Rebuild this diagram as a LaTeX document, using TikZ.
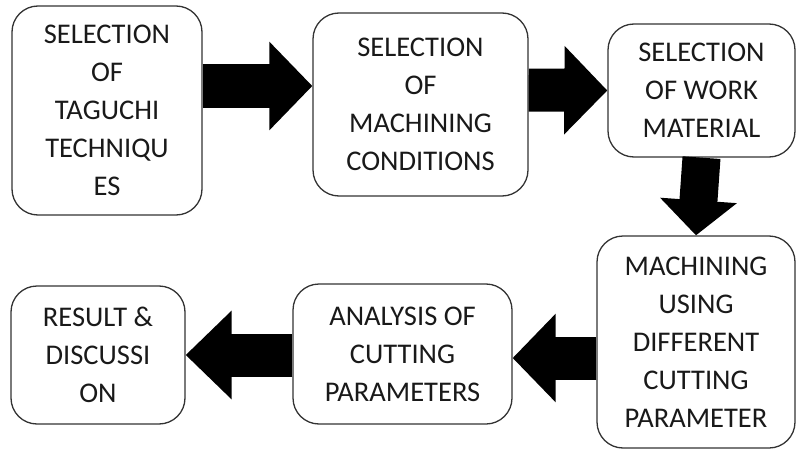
\documentclass[tikz,border=0pt]{standalone}
\usepackage{fontspec}
\setmainfont{Carlito}
\usetikzlibrary{arrows.meta}
\tikzset{
    %boxes of the flow chart
    stage/.style = {draw=black!80, line width=1.3pt, rounded corners=26pt,
                    align=center, inner sep=0pt, text=black!90,
                    font=\fontsize{28.5}{38}\selectfont},
    bigarrow/.style = {line width=43pt, black,
                       -{Triangle[width=86pt,length=43pt]}},
}
\begin{document}
\begin{tikzpicture}[x=1pt, y=-1pt]
  \useasboundingbox (0,0) rectangle (798,452);

  \node[stage, minimum width=190pt, minimum height=209pt] (taguchi) at (107,110.5)
    {SELECTION\\OF\\TAGUCHI\\TECHNIQU\\ES};
  \node[stage, minimum width=215pt, minimum height=183pt] (conditions) at (420.5,104.5)
    {SELECTION\\OF\\MACHINING\\CONDITIONS};
  \node[stage, minimum width=187pt, minimum height=133pt] (material) at (701.5,90.5)
    {SELECTION\\OF WORK\\MATERIAL};
  \node[stage, minimum width=198pt, minimum height=212pt] (machining) at (696,342)
    {MACHINING\\USING\\DIFFERENT\\CUTTING\\PARAMETER};
  \node[stage, minimum width=219pt, minimum height=140pt] (analysis) at (402.5,354)
    {ANALYSIS OF\\CUTTING\\PARAMETERS};
  \node[stage, minimum width=174pt, minimum height=138pt] (result) at (98,355)
    {RESULT \&\\DISCUSSI\\ON};

  \draw[bigarrow] ([yshift=24.5pt]taguchi.east) -- ([yshift=18.5pt]conditions.west);
  \draw[bigarrow] ([yshift=14.5pt]conditions.east) -- (material.west);
  \draw[bigarrow, line width=38pt, -{Triangle[width=75pt,length=35pt]}]
    (material.south) -- (machining.north);
  \draw[bigarrow] ([yshift=-16pt]machining.west) -- ([yshift=-4pt]analysis.east);
  \draw[bigarrow, -{Triangle[width=86pt,length=46pt]}]
    ([yshift=-1pt]analysis.west) -- (result.east);
\end{tikzpicture}
\end{document}
